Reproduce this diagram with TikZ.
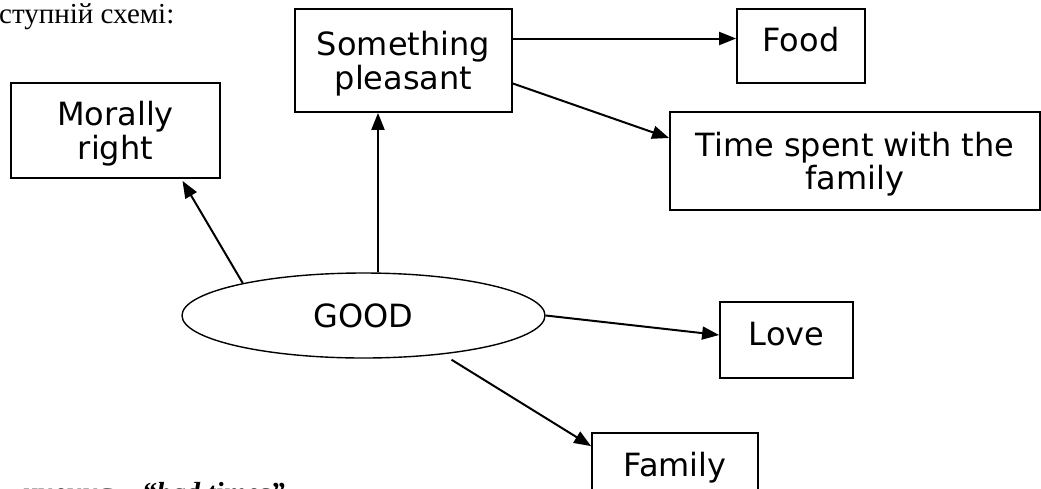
\documentclass[tikz,border=0pt]{standalone}
\usepackage{fontspec}
\setmainfont{Liberation Serif}
\newfontfamily\conceptsans{DejaVu Sans}
\newcommand{\conceptfont}{\conceptsans\fontsize{32}{33.5}\selectfont}
\newcommand{\prosefont}{\fontsize{29}{34}\selectfont}
\usepackage{tikz}
\usetikzlibrary{arrows.meta,shapes.geometric}
\tikzset{
    conceptbox/.style = {
        align=center,
        rectangle,
        draw=black,
        line width=1.8pt,
        inner sep=0pt,
        text depth=0pt,
        font=\conceptfont
    },
    wordbox/.style = {
        conceptbox,
        text depth=13pt
    },
    goodoval/.style = {
        ellipse,
        draw=black,
        line width=1.4pt,
        inner sep=0pt,
        font=\conceptfont
    },
    link/.style = {
        -{Triangle[length=17pt,width=13pt]},
        line width=2pt
    }
}

\begin{document}
\begin{tikzpicture}[x=1pt,y=-1pt]
    \useasboundingbox (0,0) rectangle (1041,488);
    % the concept map
    \node [goodoval, minimum width=363pt, minimum height=85pt] (good) at (363.5,315.5) {GOOD};
    \node [conceptbox, minimum width=217pt, minimum height=103pt] (sp) at (403.5,60.5) {Something\\pleasant};
    \node [wordbox, minimum width=128pt, minimum height=74pt] (food) at (801,46) {Food};
    \node [conceptbox, minimum width=370pt, minimum height=98pt] (time) at (855,161) {Time spent with the\\family};
    \node [conceptbox, minimum width=209pt, minimum height=95pt] (mr) at (115.5,130.5) {Morally\\right};
    \node [wordbox, minimum width=133pt, minimum height=76pt] (love) at (786.5,340) {Love};
    \node [wordbox, minimum width=166pt, minimum height=76pt] (fam) at (675,471) {Family};
    % surrounding text, cut by the page
    \node [anchor=base west, inner sep=0pt, font=\prosefont] (intro) at (-1,23) {ступній схемі:};
    \node [anchor=base east, inner sep=0pt, font=\prosefont\bfseries\itshape] (badtimes) at (285,502) {кнення – “bad times”};

    \draw [link] ([yshift=22pt]sp.east) -- ([yshift=22pt]sp.east -| food.west);
    \draw [link] ([yshift=-23pt]sp.east) -- ([yshift=23pt]time.west);
    \draw [link] (good.165) -- ([xshift=67pt,yshift=-2pt]mr.south);
    \draw [link] ([xshift=14.5pt]good.north) -- ([xshift=-25.5pt]sp.south);
    \draw [link] (good.east) -- ([yshift=5pt]love.west);
    \draw [link] ([xshift=88pt,yshift=-1pt]good.south) -- ([yshift=-14pt]fam.north west);
\end{tikzpicture}
\end{document}
